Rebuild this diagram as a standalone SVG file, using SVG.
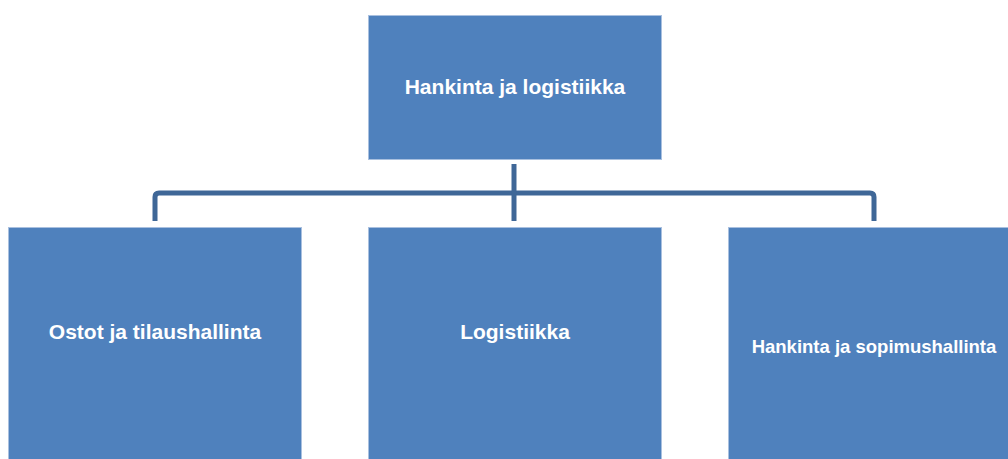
<svg xmlns="http://www.w3.org/2000/svg" width="1008" height="459" viewBox="0 0 1008 459">
  <style>
    .box { fill: #4F81BD; stroke: #A9C0DF; stroke-width: 1; }
    .lbl { fill: #FFFFFF; font-family: "Liberation Sans", Arial, sans-serif; font-weight: bold; text-anchor: middle; }
    .conn { fill: none; stroke: #3F6797; stroke-width: 5; stroke-linejoin: round; }
  </style>
  <rect width="1008" height="459" fill="#FFFFFF"/>
  <g id="connectors">
    <path class="conn" d="M155,221 V197 Q155,193 159,193 H870 Q874,193 874,197 V221"/>
    <path class="conn" d="M514,164 V221"/>
  </g>
  <g id="node-hankinta-logistiikka">
    <rect class="box" x="368.5" y="15.5" width="293" height="144"/>
    <text class="lbl" x="515" y="94" font-size="21">Hankinta ja logistiikka</text>
  </g>
  <g id="node-ostot">
    <rect class="box" x="8.5" y="227.5" width="293" height="240"/>
    <text class="lbl" x="155" y="339" font-size="21">Ostot ja tilaushallinta</text>
  </g>
  <g id="node-logistiikka">
    <rect class="box" x="368.5" y="227.5" width="293" height="240"/>
    <text class="lbl" x="515" y="339" font-size="21">Logistiikka</text>
  </g>
  <g id="node-sopimushallinta">
    <rect class="box" x="728.5" y="227.5" width="293" height="240"/>
    <text class="lbl" x="874" y="353" font-size="18.5">Hankinta ja sopimushallinta</text>
  </g>
</svg>
